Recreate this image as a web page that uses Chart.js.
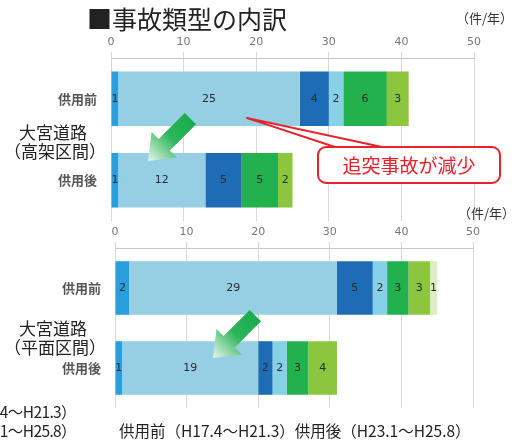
<!DOCTYPE html>
<html lang="ja">
<head>
<meta charset="UTF-8">
<title>事故類型の内訳</title>
<script src="https://cdn.jsdelivr.net/npm/chart.js"></script>
<style>
  body { margin: 0; background: #fff; font-family: 'Noto Sans CJK JP', sans-serif; }
  #wrap { position: relative; width: 530px; height: 448px; overflow: hidden; background: #fff; }
  canvas { position: absolute; left: 0; }
  #c1 { top: 0; }
  #c2 { top: 200px; }
  svg { position: absolute; left: 0; top: 0; }
  .t { position: absolute; white-space: nowrap; line-height: 1; color: #222; }
  .title { left: 87px; top: 6px; font-size: 25px; }
  .unit { font-size: 13px; color: #333; }
  .road { font-size: 17px; }
  .note { font-size: 15.5px; }
  .cut { letter-spacing: -0.6px; }
  .callout { left: 318px; top: 155px; width: 182px; text-align: center; font-size: 19px; color: #e8212b; }
</style>
</head>
<body>
<div id="wrap">
  <canvas id="c1" width="530" height="222"></canvas>
  <canvas id="c2" width="530" height="215"></canvas>

  <svg width="530" height="448">
    <defs>
      <linearGradient id="arrowFill" gradientUnits="userSpaceOnUse" x1="-60" y1="0" x2="0" y2="0">
        <stop offset="0" stop-color="#1aac4c"/>
        <stop offset="0.45" stop-color="#2db55a"/>
        <stop offset="1" stop-color="#e9f6ec"/>
      </linearGradient>
    </defs>
    <!-- 追突事故 callout -->
    <polygon points="247,118 344,150 396,150" fill="#fff" stroke="#e8212b" stroke-width="2" stroke-linejoin="round"/>
    <rect x="318" y="147" width="182" height="36" rx="8" ry="8" fill="#fff" stroke="#e8212b" stroke-width="2"/>
    <!-- green arrows -->
    <g transform="translate(148,161) rotate(135)">
      <polygon points="0,0 -23,-18 -23,-8 -60,-8 -60,8 -23,8 -23,18" fill="url(#arrowFill)"/>
    </g>
    <g transform="translate(213,358) rotate(135)">
      <polygon points="0,0 -23,-18 -23,-8 -60,-8 -60,8 -23,8 -23,18" fill="url(#arrowFill)"/>
    </g>
  </svg>

  <div class="t title">■事故類型の内訳</div>
  <div class="t unit" style="left:456px;top:11px;">（件/年）</div>
  <div class="t unit" style="left:458px;top:206px;">（件/年）</div>

  <div class="t road" style="left:19px;top:123px;">大宮道路</div>
  <div class="t road" style="left:4px;top:142px;">（高架区間）</div>
  <div class="t road" style="left:19px;top:319px;">大宮道路</div>
  <div class="t road" style="left:4px;top:338px;">（平面区間）</div>

  <div class="t callout">追突事故が減少</div>

  <div class="t note cut" style="right:454px;top:404px;">供用前（H17.4～H21.3）</div>
  <div class="t note cut" style="right:454px;top:423px;">供用後（H23.1～H25.8）</div>
  <div class="t note" style="left:119px;top:423px;">供用前（H17.4～H21.3）供用後（H23.1～H25.8）</div>
</div>

<script>
  // 事故類型 (legend not shown in the picture)
  const types = ['人対車両', '追突', '出会い頭', '右折時', '左折時', '車両相互その他', '車両単独'];
  const colors = ['#2a9fdd', '#96cfe3', '#1f6cb6', '#86d0e8', '#22b14d', '#8cc63f', '#dcedc6'];
  const periods = ['供用前', '供用後'];

  // 高架区間
  const elevBefore = [1, 25, 4, 2, 6, 3, 0];
  const elevAfter  = [1, 12, 5, 0, 5, 2, 0];
  // 平面区間
  const flatBefore = [2, 29, 5, 2, 3, 3, 1];
  const flatAfter  = [1, 19, 2, 2, 3, 4, 0];

  const xTicks = [0, 10, 20, 30, 40, 50];

  const valueLabels = {
    id: 'valueLabels',
    afterDatasetsDraw(chart) {
      const ctx = chart.ctx;
      ctx.save();
      ctx.font = '11px "DejaVu Sans", sans-serif';
      ctx.fillStyle = '#2a2a2a';
      ctx.textAlign = 'center';
      ctx.textBaseline = 'middle';
      chart.data.datasets.forEach((ds, i) => {
        chart.getDatasetMeta(i).data.forEach((bar, j) => {
          const v = ds.data[j];
          if (!v) return;
          ctx.fillText(String(v), (bar.x + bar.base) / 2, bar.y);
        });
      });
      ctx.restore();
    }
  };

  function makeChart(id, before, after, left, right, padTop, padBottom) {
    return new Chart(document.getElementById(id), {
      type: 'bar',
      data: {
        labels: periods,
        datasets: types.map((t, i) => ({
          label: t,
          data: [before[i], after[i]],
          backgroundColor: colors[i],
          borderWidth: 0,
          barPercentage: 0.67,
          categoryPercentage: 1
        }))
      },
      options: {
        indexAxis: 'y',
        responsive: false,
        animation: false,
        layout: { padding: { left: 0, right: 530 - right, top: padTop, bottom: padBottom } },
        plugins: { legend: { display: false }, tooltip: { enabled: false } },
        scales: {
          x: {
            position: 'top',
            stacked: true,
            min: 0,
            max: 50,
            afterFit(scale) { scale.height = 30; },
            afterBuildTicks(scale) { scale.ticks = xTicks.map(v => ({ value: v })); },
            ticks: { color: '#777', padding: 3, font: { size: 11, family: 'DejaVu Sans' } },
            grid: { color: '#d8d8d8', tickLength: 6 },
            border: { color: '#c8c8c8' }
          },
          y: {
            stacked: true,
            afterFit(scale) {
              scale.width = left;
              scale.paddingTop = 0;
              scale.paddingBottom = 0;
            },
            ticks: { color: '#555', padding: 6, font: { size: 13, weight: 'bold', family: 'Noto Sans CJK JP' } },
            grid: { display: false },
            border: { display: false }
          }
        }
      },
      plugins: [valueLabels]
    });
  }

  makeChart('c1', elevBefore, elevAfter, 111, 474, 28, 1);
  makeChart('c2', flatBefore, flatAfter, 115, 473, 18, 7);
</script>
</body>
</html>
